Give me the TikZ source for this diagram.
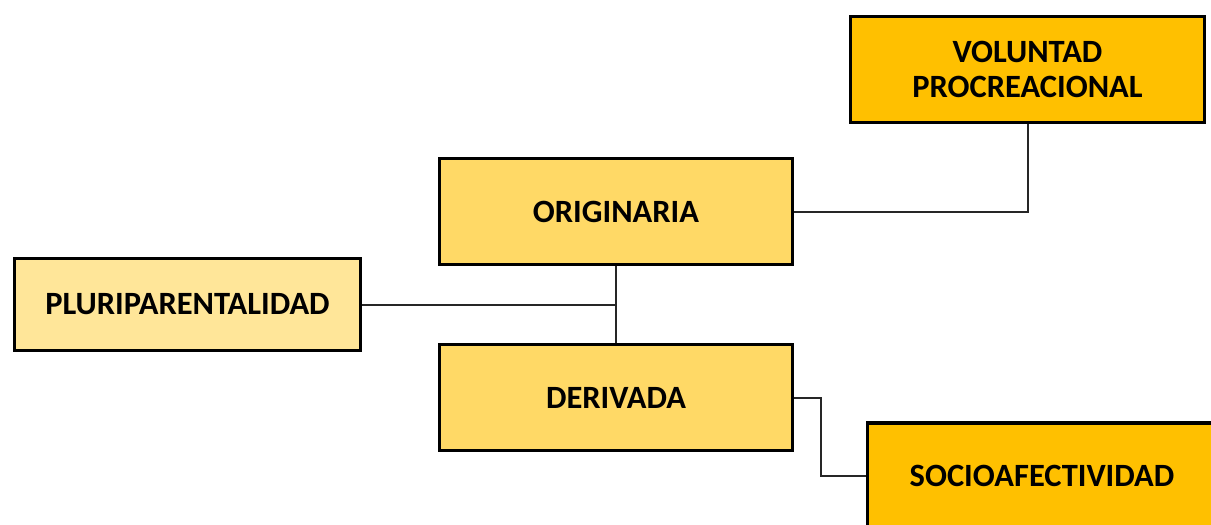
\documentclass[tikz,border=0pt]{standalone}
\usepackage{fontspec}
\setmainfont{Carlito}
\definecolor{amber}{HTML}{FFC000}
\definecolor{honey}{HTML}{FFD966}
\definecolor{cream}{HTML}{FFE699}
\begin{document}
\begin{tikzpicture}[x=1pt,y=-1pt,
	box/.style={draw=black, line width=3.2pt, rectangle, inner sep=0pt, align=center,
		font=\fontsize{32.5}{35}\selectfont\bfseries, text=black},
	link/.style={draw=black!85, line width=2pt}]

	\useasboundingbox (0,0) rectangle (1211,525);

	\node[box, fill=amber, minimum width=354pt, minimum height=106pt] (vol) at (1027.5,69.5) {VOLUNTAD\\PROCREACIONAL};
	\node[box, fill=honey, minimum width=353pt, minimum height=106pt] (ori) at (616,211.5) {ORIGINARIA};
	\node[box, fill=cream, minimum width=346pt, minimum height=92pt] (plu) at (187.5,304.5) {PLURIPARENTALIDAD};
	\node[box, fill=honey, minimum width=353pt, minimum height=106pt] (der) at (616,397.5) {DERIVADA};
	\node[box, fill=amber, minimum width=349pt, minimum height=106pt] (soc) at (1042,476) {SOCIOAFECTIVIDAD};

	\draw[link] (ori.east) -| (vol.south);
	\draw[link] (ori.south) -- (der.north);
	\draw[link] (plu.east) -- (plu.east -| ori.south);
	\draw[link] (der.east) -- ++(27,0) |- (soc.west);
\end{tikzpicture}
\end{document}
